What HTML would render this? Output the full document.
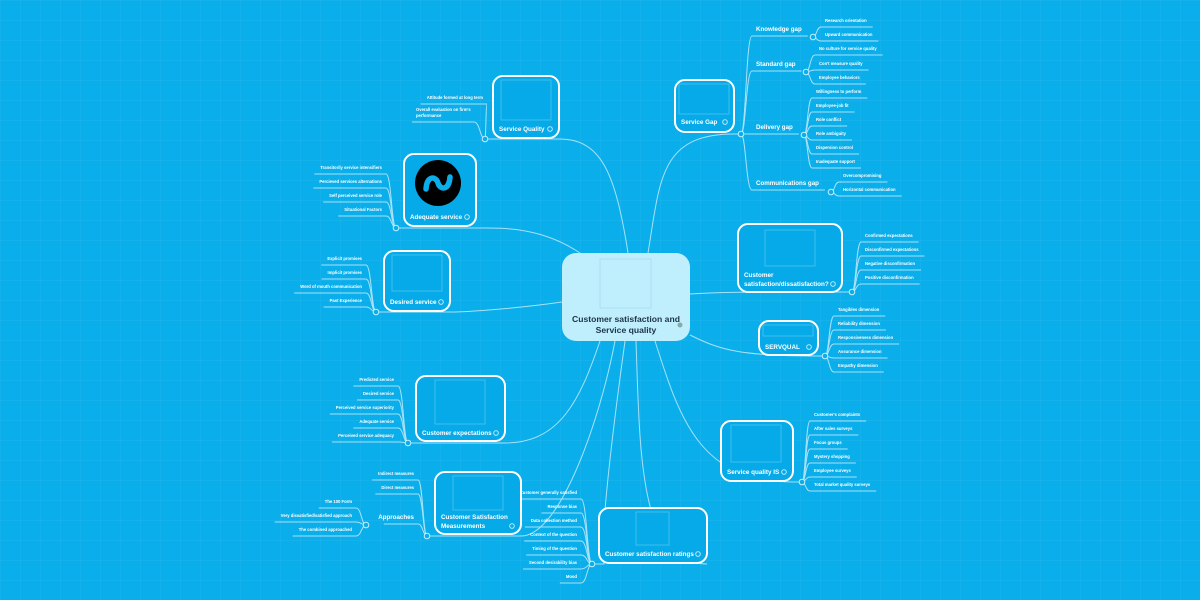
<!DOCTYPE html>
<html><head><meta charset="utf-8"><style>
html,body{margin:0;padding:0;width:1200px;height:600px;overflow:hidden;background:#0aaeea}
svg{display:block;font-family:"Liberation Sans",sans-serif}
</style></head><body>
<svg id="s" width="1200" height="600" xmlns="http://www.w3.org/2000/svg">
<defs>
<pattern id="g" width="20" height="20" patternUnits="userSpaceOnUse">
<path d="M20 0H0V20" fill="none" stroke="#26b8ee" stroke-width="0.7"/>
</pattern>
</defs>
<rect width="1200" height="600" fill="#0aaeea"/>
<rect width="1200" height="600" fill="url(#g)"/>
<g id="edges" fill="none" stroke="#a8e2f8" stroke-width="1"></g>
<g id="nodes"></g>
<g id="txt" fill="#fff" font-weight="bold"></g>
</svg>
<script>
var NS="http://www.w3.org/2000/svg";
function el(p,t,a,txt){var e=document.createElementNS(NS,t);for(var k in a)e.setAttribute(k,a[k]);if(txt!==undefined)e.textContent=txt;document.getElementById(p).appendChild(e);return e;}
function edge(d){el('edges','path',{d:d});}
function dot(x,y){el('nodes','circle',{cx:x,cy:y,r:2.8,fill:'#0aaeea',stroke:'#c8eefb','stroke-width':1});}
function node(x,y,w,h,lines,ly,img){
 el('nodes','rect',{x:x,y:y,width:w,height:h,rx:10,fill:'#06aae8',stroke:'#fff','stroke-width':2});
 if(img) el('nodes','rect',{x:img[0],y:img[1],width:img[2],height:img[3],fill:'none',stroke:'#4cc4ef','stroke-width':0.8});
 lines.forEach(function(l,i){el('txt','text',{x:x+6,y:ly+i*9,'font-size':6.3},l);});
 el('nodes','circle',{cx:x+w-9,cy:ly+lines.length*9-11,r:2.3,fill:'none',stroke:'#cdeffb','stroke-width':0.9});
}
function kids(dx,dy,side,x,items,fs){
 fs=fs||4.2;
 items.forEach(function(it){
  var t=el('txt','text',{x:x,y:it[1],'font-size':fs,'text-anchor':side>0?'start':'end'},it[0]);
  var len=t.getComputedTextLength();var uy=it[1]+5;
  var s,e;
  if(side>0){s=x-4;e=x+len+6;}else{s=x+4;e=x-len-6;}
  var mx=dx+(s-dx)*0.45;
  edge('M'+dx+','+dy+' C'+mx+','+dy+' '+mx+','+uy+' '+s+','+uy+' L'+e+','+uy);
 });
 dot(dx,dy);
}
edge('M628,253 C615,170 600,139 559,139 L485,139');
edge('M580,253 C540,226 500,228 476,228 L396,228');
edge('M562,302 C520,308 470,312 450,312 L376,312');
edge('M600,341 C580,400 560,443 505,443 L408,443');
edge('M615,341 C600,420 560,536 521,536 L427,536');
edge('M625,341 C610,450 600,540 604,564 L592,564');
edge('M636,341 C640,460 640,564 707,564');
edge('M655,341 C680,420 700,482 793,482 L802,482');
edge('M690,335 C720,350 740,356 818,356 L825,356');
edge('M690,294 C720,292 740,292 842,292 L852,292');
edge('M648,253 C660,180 660,134 734,134 L741,134');
el('nodes','rect',{x:562,y:253,width:128,height:88,rx:14,fill:'#bfeefc'});
el('nodes','rect',{x:600,y:259,width:51,height:49,fill:'none',stroke:'#a5dcef','stroke-width':0.8});
el('nodes','text',{x:626,y:322,'font-size':8.6,'font-weight':'bold','text-anchor':'middle',fill:'#1d3446'},'Customer satisfaction and');
el('nodes','text',{x:626,y:333,'font-size':8.6,'font-weight':'bold','text-anchor':'middle',fill:'#1d3446'},'Service quality');
el('nodes','circle',{cx:680,cy:325,r:2.5,fill:'#8aa'});
node(493,76,66,62,['Service Quality'],131,[501,80,50,40]);
node(404,154,72,72,['Adequate service'],219);
el('nodes','circle',{cx:438,cy:183,r:23,fill:'#000'});
el('nodes','path',{d:'M426,189 C427,175 436,176 438,183 C440,190 449,191 450,177',fill:'none',stroke:'#0aaeea','stroke-width':5.5,'stroke-linecap':'round'});
node(384,251,66,60,['Desired service'],304,[392,255,50,36]);
node(675,80,59,52,['Service Gap'],124,[679,84,50,30]);
node(738,224,104,68,['Customer','satisfaction/dissatisfaction?'],277,[765,230,50,36]);
node(759,321,59,34,['SERVQUAL'],349,[763,325,50,11]);
node(721,421,72,60,['Service quality IS'],474,[731,425,50,37]);
node(416,376,89,65,['Customer expectations'],435,[435,380,50,44]);
node(435,472,86,62,['Customer Satisfaction','Measurements'],519,[453,476,50,34]);
node(599,508,108,55,['Customer satisfaction ratings'],556,[636,512,33,33]);
kids(485,139,-1,483,[['Attitude formed at long term',99]]);
el('txt','text',{x:416,y:111,'font-size':4.2},'Overall evaluation on firm\'s');
el('txt','text',{x:416,y:117,'font-size':4.2},'performance');
edge('M485,139 C480,139 480,122 474,122 L412,122');
kids(396,228,-1,382,[['Transitorily service intensifiers',169],['Percieved services alternations',183],['Self perceived  service role',197],['Situational Factors',211]]);
kids(376,312,-1,362,[['Explicit promises',260],['Implicit promises',274],['Word of mouth communication',288],['Past Experience',302]]);
kids(741,134,1,756,[['Knowledge gap',31],['Standard gap',66],['Delivery gap',129],['Communications gap',185]],6.2);
kids(813,37,1,825,[['Research orientation',22],['Upward communication',36]]);
kids(806,72,1,819,[['No culture for service quality',50],['Con\'t measure quality',65],['Employee behaviors',79]]);
kids(804,135,1,816,[['Willingness to perform',93],['Employee-job fit',107],['Role conflict',121],['Role ambiguity',135],['Dispersion control',149],['Inadequate support',163]]);
kids(831,192,1,843,[['Overcompromising',177],['Horizontal communication',191]]);
kids(852,292,1,865,[['Confirmed expectations',237],['Disconfirmed expectations',251],['Negative disconfirmation',265],['Positive disconfirmation',279]]);
kids(825,356,1,838,[['Tangibles dimension',311],['Reliability dimension',325],['Responsiveness dimension',339],['Assurance dimension',353],['Empathy dimension',367]]);
kids(802,482,1,814,[['Customer\'s complaints',416],['After sales surveys',430],['Focus groups',444],['Mystery shopping',458],['Employee surveys',472],['Total market quality surveys',486]]);
kids(408,443,-1,394,[['Predicted service',381],['Desired service',395],['Perceived service superiority',409],['Adequate service',423],['Perceived service adequacy',437]]);
kids(427,536,-1,414,[['Indirect measures',475],['Direct measures',489],['Approaches',519]]);
document.querySelectorAll('#txt text').forEach(function(t){if(t.textContent=='Approaches')t.setAttribute('font-size',6.2);});
kids(366,525,-1,352,[['The 100 Form',503],['Very dissatisfied/satisfied approach',517],['The combined approached',531]]);
kids(592,564,-1,577,[['Customer generally satisfied',494],['Response bias',508],['Data collection method',522],['Context of the question',536],['Timing of the question',550],['Second desirability bias',564],['Mood',578]]);
</script>
</body></html>
